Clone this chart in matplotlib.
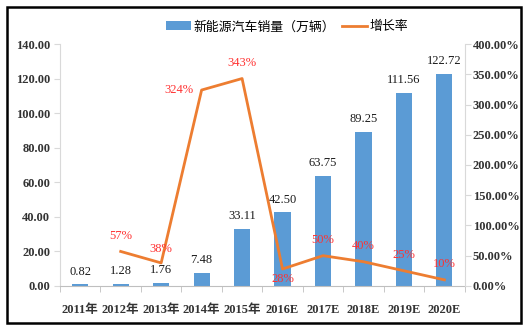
import numpy as np
import matplotlib.pyplot as plt
from matplotlib.patches import Rectangle
from matplotlib.ticker import FuncFormatter

years = ["2011年", "2012年", "2013年", "2014年", "2015年",
         "2016E", "2017E", "2018E", "2019E", "2020E"]
sales = [0.82, 1.28, 1.76, 7.48, 33.11, 42.50, 63.75, 89.25, 111.56, 122.72]
growth = [None, 57, 38, 324, 343, 28, 50, 40, 25, 10]
# label offsets (points) for growth annotations
growth_offsets = [None, (0, 7), (0, 6), (-16, 0), (0, 7), (0, -3), (0, 7), (0, 7), (0, 7), (0, 7)]

SERIF = ["Liberation Serif", "Noto Sans CJK SC"]
CJK = ["Noto Sans CJK SC", "DejaVu Sans"]
BLUE = "#5B9BD5"
ORANGE = "#ED7D31"

fig = plt.figure(figsize=(5.31, 3.29), dpi=100)
ax = fig.add_axes([0.113, 0.131, 0.762, 0.735])
ax2 = ax.twinx()

x = np.arange(len(years))
bars = ax.bar(x, sales, width=0.4, color=BLUE, zorder=2)
for xi, v in zip(x, sales):
    ax.annotate(f"{v:.2f}", (xi, v), xytext=(0, 5), textcoords="offset points",
                ha="center", va="bottom", fontsize=9, family=SERIF, color="#1a1a1a")

gx = [i for i, g in enumerate(growth) if g is not None]
gy = [g for g in growth if g is not None]
line, = ax2.plot(gx, gy, color=ORANGE, lw=2, zorder=3)
for i in gx:
    dx, dy = growth_offsets[i]
    va = "bottom" if dy > 0 else ("top" if dy < 0 else "center")
    ax2.annotate(f"{growth[i]}%", (i, growth[i]), xytext=(dx, dy), textcoords="offset points",
                 ha="center", va=va, fontsize=9, family=SERIF, color="#FF3333")

ax.set_xlim(-0.5, len(years) - 0.5)
ax.set_ylim(0, 140)
ax.set_yticks(np.arange(0, 141, 20))
ax.yaxis.set_major_formatter(FuncFormatter(lambda v, p: f"{v:.2f}"))
ax2.set_ylim(0, 400)
ax2.set_yticks(np.arange(0, 401, 50))
ax2.yaxis.set_major_formatter(FuncFormatter(lambda v, p: f"{v:.2f}%"))

ax.set_xticks(x)
ax.set_xticklabels(years)
ax.set_xticks(np.arange(-0.5, len(years), 1), minor=True)
ax.tick_params(axis="x", which="major", length=0, pad=13)
ax.tick_params(axis="x", which="minor", length=4, color="#BFBFBF")

for a in (ax, ax2):
    for s in a.spines.values():
        s.set_visible(False)
    for lab in a.get_xticklabels() + a.get_yticklabels():
        lab.set_family(SERIF)
        lab.set_fontsize(9)
        lab.set_fontweight("bold")
        lab.set_color("#333333")
ax.spines["bottom"].set_visible(True)
ax.spines["bottom"].set_color("#BFBFBF")
ax.spines["left"].set_visible(True)
ax.spines["left"].set_color("#D9D9D9")
ax2.spines["right"].set_visible(True)
ax2.spines["right"].set_color("#D9D9D9")
ax.tick_params(axis="y", length=4, color="#D9D9D9", pad=3)
ax2.tick_params(axis="y", length=4, color="#D9D9D9", pad=2)

fig.legend([bars, line], ["新能源汽车销量（万辆）", "增长率"], loc="center",
           bbox_to_anchor=(0.541, 0.918), ncol=2, frameon=False,
           prop={"family": CJK, "size": 9.3}, handlelength=1.9, columnspacing=0.5,
           handletextpad=0.25)

fig.patches.append(Rectangle((7 / 531, 6 / 329), 514 / 531, 316 / 329, transform=fig.transFigure,
                             fill=False, edgecolor="black", lw=1.8))

fig.savefig("out.png", dpi=100)
